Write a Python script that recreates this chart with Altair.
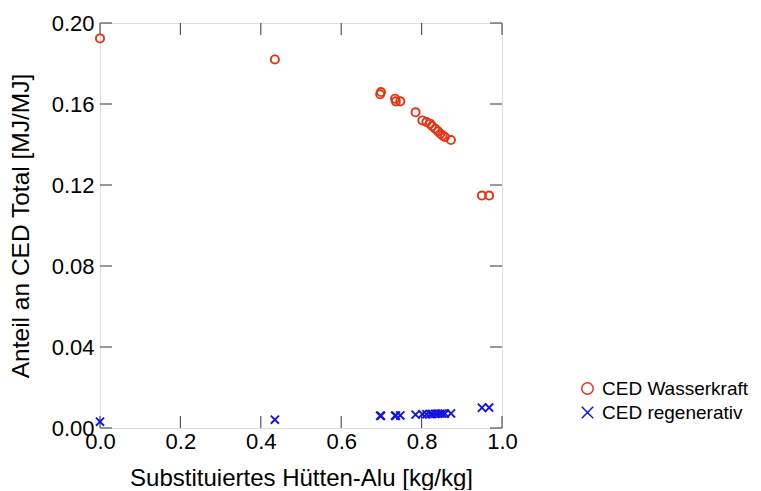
import altair as alt
import pandas as pd

# Data
x_vals = [0.000, 0.435, 0.699, 0.697, 0.734, 0.736, 0.747, 0.785, 0.802, 0.812,
          0.821, 0.826, 0.834, 0.841, 0.847, 0.852, 0.858, 0.873, 0.950, 0.968]
wasserkraft = [0.1924, 0.1820, 0.1659, 0.1648, 0.1626, 0.1613, 0.1613, 0.1559, 0.1519, 0.1511,
               0.1503, 0.1491, 0.1478, 0.1465, 0.1453, 0.1445, 0.1437, 0.1422, 0.1148, 0.1148]
regenerativ = [0.0031, 0.0041, 0.0060, 0.0060, 0.0061, 0.0061, 0.0062, 0.0066, 0.0068, 0.0068,
               0.0069, 0.0069, 0.0070, 0.0070, 0.0071, 0.0071, 0.0071, 0.0072, 0.0100, 0.0101]
series_names = ["CED Wasserkraft", "CED regenerativ"]
x_ticks = [0.0, 0.2, 0.4, 0.6, 0.8, 1.0]
y_ticks = [0.0, 0.04, 0.08, 0.12, 0.16, 0.20]

n = len(x_vals)
df = pd.DataFrame({
    "x": x_vals + x_vals,
    "y": wasserkraft + regenerativ,
    "series": [series_names[0]] * n + [series_names[1]] * n,
})
xt = pd.DataFrame({"x": x_ticks})
yt = pd.DataFrame({"y": y_ticks})

W, H = 402, 405
FONT = "Liberation Sans"
ORANGE = "#E63312"
BLUE = "#1414E0"
X_PATH = "M-1,-1L1,1M-1,1L1,-1"
TICK = "#555555"

xscale = alt.Scale(domain=[0, 1], nice=False, zero=False)
yscale = alt.Scale(domain=[0, 0.2], nice=False, zero=False)

xaxis = alt.Axis(values=x_ticks, format=".1f", title="Substituiertes Hütten-Alu [kg/kg]",
                 grid=False, ticks=False, domain=False, labelFontSize=22, titleFontSize=24,
                 labelFont=FONT, titleFont=FONT, labelColor="#000", titleColor="#000",
                 titleFontWeight="normal", labelPadding=3, titlePadding=14, labelFlush=False)
yaxis = alt.Axis(values=y_ticks, format=".2f", title="Anteil an CED Total [MJ/MJ]",
                 grid=False, ticks=False, domain=False, labelFontSize=22, titleFontSize=24.5,
                 labelFont=FONT, titleFont=FONT, labelColor="#000", titleColor="#000",
                 titleFontWeight="normal", labelPadding=6, titlePadding=18, labelFlush=False)

leg = alt.Legend(title=None, orient="none", legendX=478, legendY=356,
                 labelFontSize=19, labelFont=FONT, labelColor="#000",
                 symbolSize=130, symbolStrokeWidth=1.5, rowPadding=4, labelOffset=5)

points = alt.Chart(df).mark_point(filled=False, strokeWidth=1.9, size=66, opacity=1).encode(
    x=alt.X("x:Q", scale=xscale, axis=xaxis),
    y=alt.Y("y:Q", scale=yscale, axis=yaxis),
    color=alt.Color("series:N", scale=alt.Scale(domain=series_names, range=[ORANGE, BLUE]), legend=leg),
    shape=alt.Shape("series:N", scale=alt.Scale(domain=series_names, range=["circle", X_PATH]), legend=leg),
)

tick_len = 12
bottom = alt.Chart(xt).mark_rule(color=TICK, strokeWidth=1.2).encode(
    x=alt.X("x:Q", scale=xscale), y=alt.value(H), y2=alt.value(H - tick_len))
top = alt.Chart(xt).mark_rule(color=TICK, strokeWidth=1.2).encode(
    x=alt.X("x:Q", scale=xscale), y=alt.value(0), y2=alt.value(tick_len))
left = alt.Chart(yt).mark_rule(color=TICK, strokeWidth=1.2).encode(
    y=alt.Y("y:Q", scale=yscale), x=alt.value(0), x2=alt.value(tick_len))
right = alt.Chart(yt).mark_rule(color=TICK, strokeWidth=1.2).encode(
    y=alt.Y("y:Q", scale=yscale), x=alt.value(W), x2=alt.value(W - tick_len))

chart = alt.layer(bottom, top, left, right, points).properties(
    width=W, height=H,
    autosize=alt.AutoSizeParams(type="none"),
    padding={"left": 92, "top": 15, "right": 250, "bottom": 62},
).configure_view(stroke="#000", strokeWidth=1.5).configure(background="white")

chart.save("out.html", embed_options={"renderer": "svg", "actions": False})
